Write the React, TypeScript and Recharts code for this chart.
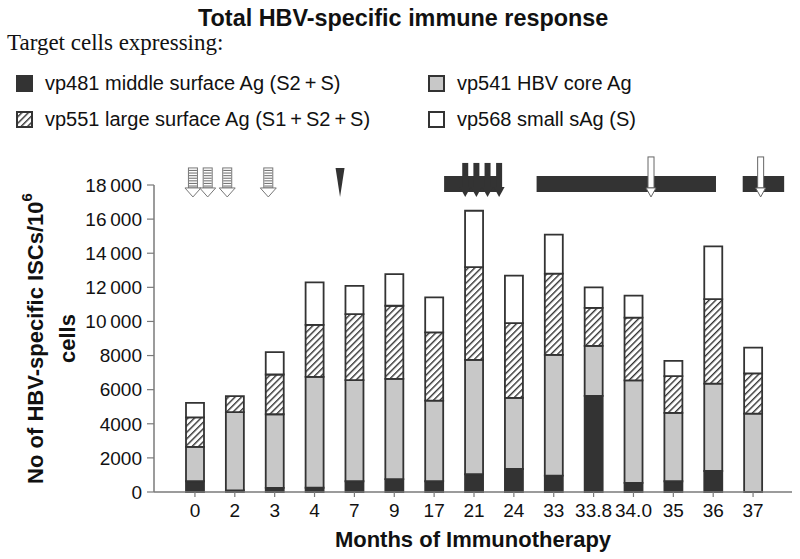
import React from "react";
import {
  BarChart,
  Bar,
  XAxis,
  YAxis,
  ReferenceArea,
  ReferenceDot,
} from "recharts";

// months of immunotherapy (x categories)
const months = ["0", "2", "3", "4", "7", "9", "17", "21", "24", "33", "33.8", "34.0", "35", "36", "37"];

// ISCs per 10^6 cells, stacked bottom -> top
const vp481 = [630, 100, 240, 250, 630, 750, 630, 1040, 1350, 960, 5640, 530, 630, 1230, 0];
const vp541 = [2010, 4580, 4320, 6500, 5930, 5880, 4730, 6710, 4170, 7080, 2930, 6010, 4010, 5130, 4590];
const vp551 = [1730, 940, 2330, 3050, 3870, 4290, 4000, 5440, 4380, 4760, 2230, 3680, 2150, 4950, 2370];
const vp568 = [850, 0, 1310, 2490, 1660, 1860, 2050, 3300, 2790, 2290, 1200, 1290, 900, 3090, 1500];

const yTicks = [0, 2000, 4000, 6000, 8000, 10000, 12000, 14000, 16000, 18000];

// treatment events, in category-index units (0 = first bar)
const stripedArrows = [-0.05, 0.32, 0.81, 1.84];
const wedges = [3.64];
const darkArrows = [6.78, 7.06, 7.34, 7.63];
const whiteArrows = [11.44, 14.19];
const therapyStart = [6.25, 8.57, 13.74];
const therapyEnd = [7.63, 13.07, 14.78];

const DARK = "#333333";
const GREY = "#c8c8c8";
const AXIS = "#7a7a7a";
const FONT = "'Liberation Sans', Arial, sans-serif";

const series = [
  { key: "vp481", name: "vp481 middle surface Ag (S2\u2009+\u2009S)", fill: DARK },
  { key: "vp541", name: "vp541 HBV core Ag", fill: GREY },
  { key: "vp551", name: "vp551 large surface Ag (S1\u2009+\u2009S2\u2009+\u2009S)", fill: "url(#hatch)" },
  { key: "vp568", name: "vp568 small sAg (S)", fill: "#ffffff" },
];

const data = months.map((m, i) => ({
  month: m,
  idx: i,
  vp481: vp481[i],
  vp541: vp541[i],
  vp551: vp551[i],
  vp568: vp568[i],
}));

// plot geometry shared by the category axis and the hidden event axis
const PLOT_W = 800 - 8 - 84 - 70;
const PAD_L = 21;
const PAD_R = 19;
const BAND = (PLOT_W - PAD_L - PAD_R) / months.length;

const ARROW_TIP = 17300;
const BAR_LOW = 17590;
const BAR_HIGH = 18530;

const fmtY = (v: number) => (v >= 10000 ? `${Math.floor(v / 1000)}\u2009000` : String(v));

const StripedArrow = ({ cx, cy }: any) => {
  const top = cy - 29;
  const lines = [];
  for (let y = top + 2.5; y < cy - 9; y += 2.6) {
    lines.push(<line key={y} x1={cx - 4} x2={cx + 4} y1={y} y2={y} stroke="#777" strokeWidth={1.1} />);
  }
  return (
    <g>
      <rect x={cx - 4.5} y={top} width={9} height={20} fill="#fff" stroke="#777" strokeWidth={1} />
      {lines}
      <polygon points={`${cx - 8},${cy - 9} ${cx + 8},${cy - 9} ${cx},${cy}`} fill="#fff" stroke="#777" strokeWidth={1} />
    </g>
  );
};

const Wedge = ({ cx, cy }: any) => (
  <polygon points={`${cx - 4.5},${cy - 29} ${cx + 4.5},${cy - 29} ${cx},${cy}`} fill={DARK} />
);

const DarkArrow = ({ cx, cy }: any) => (
  <g>
    <rect x={cx - 3} y={cy - 34} width={6} height={25} fill={DARK} />
    <polygon points={`${cx - 5.5},${cy - 10} ${cx + 5.5},${cy - 10} ${cx},${cy}`} fill={DARK} />
  </g>
);

const WhiteArrow = ({ cx, cy }: any) => (
  <g>
    <rect x={cx - 3} y={cy - 40} width={6} height={31} fill="#fff" stroke="#666" strokeWidth={1} />
    <polygon points={`${cx - 5},${cy - 9} ${cx + 5},${cy - 9} ${cx},${cy}`} fill="#fff" stroke="#666" strokeWidth={1} />
  </g>
);

const YLabel = ({ viewBox }: any) => {
  const cy = viewBox.y + viewBox.height / 2;
  const x1 = viewBox.x - 49;
  const x2 = viewBox.x - 17;
  return (
    <g fontFamily={FONT} fontWeight="bold" fontSize={22} fill="#111">
      <text x={x1} y={cy} textAnchor="middle" dominantBaseline="central" transform={`rotate(-90, ${x1}, ${cy})`}>
        No of HBV-specific ISCs/10
        <tspan fontSize={15} dy={-9}>6</tspan>
      </text>
      <text x={x2} y={cy} textAnchor="middle" dominantBaseline="central" transform={`rotate(-90, ${x2}, ${cy})`}>
        cells
      </text>
    </g>
  );
};

const XLabel = ({ viewBox }: any) => (
  <text
    x={viewBox.x + viewBox.width / 2}
    y={547}
    textAnchor="middle"
    fontFamily={FONT}
    fontWeight="bold"
    fontSize={22}
    fill="#111"
  >
    Months of Immunotherapy
  </text>
);

const Swatch = ({ fill }: { fill: string }) => (
  <svg width={17} height={17} style={{ display: "block" }}>
    <rect x={1} y={1} width={15} height={15} fill={fill} stroke={DARK} strokeWidth={2} />
  </svg>
);

export default function App() {
  // legend grid: left column vp481 / vp551, right column vp541 / vp568
  const legendPos = [
    { left: 16, top: 73 },
    { left: 428, top: 73 },
    { left: 16, top: 109 },
    { left: 428, top: 109 },
  ];
  return (
    <div style={{ position: "absolute", left: 0, top: 0, width: 800, height: 559, background: "#fff", fontFamily: FONT }}>
      <svg width={0} height={0} style={{ position: "absolute" }}>
        <defs>
          <pattern id="hatch" patternUnits="userSpaceOnUse" width={4.6} height={4.6} patternTransform="rotate(45)">
            <rect width={4.6} height={4.6} fill="#fff" />
            <line x1={0} y1={0} x2={0} y2={4.6} stroke={DARK} strokeWidth={2.8} />
          </pattern>
        </defs>
      </svg>
      <div style={{ position: "absolute", left: 198, top: 7, fontSize: 23.4, fontWeight: "bold", lineHeight: "23px", color: "#111", whiteSpace: "nowrap" }}>
        Total HBV-specific immune response
      </div>
      <div style={{ position: "absolute", left: 7, top: 31, fontSize: 23, lineHeight: "23px", fontFamily: "'Liberation Serif', 'Times New Roman', serif", color: "#111", whiteSpace: "nowrap" }}>
        Target cells expressing:
      </div>
      {series.map((s, i) => {
        const p = legendPos[i];
        return (
          <div key={s.key} style={{ position: "absolute", left: p.left, top: p.top, display: "flex", alignItems: "center", whiteSpace: "nowrap" }}>
            <Swatch fill={s.fill} />
            <span style={{ marginLeft: 12, fontSize: 20, lineHeight: "20px", color: "#111" }}>{s.name}</span>
          </div>
        );
      })}
      <div style={{ position: "absolute", left: 0, top: 0 }}>
        <BarChart
          width={800}
          height={559}
          data={data}
          margin={{ top: 185, right: 8, bottom: 7, left: 84 }}
          barSize={18}
        >
          <XAxis
            dataKey="month"
            height={60}
            padding={{ left: PAD_L, right: PAD_R }}
            axisLine={{ stroke: AXIS, strokeWidth: 1.5 }}
            tickLine={{ stroke: AXIS, strokeWidth: 1.2 }}
            tickSize={5}
            tickMargin={7}
            interval={0}
            tick={{ fill: "#111", fontSize: 19, fontFamily: FONT }}
            label={<XLabel />}
          />
          {/* hidden index axis: bar i sits at idx i, used to place treatment marks */}
          <XAxis
            xAxisId="ev"
            dataKey="idx"
            type="number"
            domain={[0, months.length - 1]}
            padding={{ left: PAD_L + BAND / 2, right: PAD_R + BAND / 2 }}
            hide
          />
          <YAxis
            width={70}
            domain={[0, 18000]}
            ticks={yTicks}
            interval={0}
            tickFormatter={fmtY}
            axisLine={{ stroke: AXIS, strokeWidth: 1.5 }}
            tickLine={{ stroke: AXIS, strokeWidth: 1.2 }}
            tickSize={7}
            tickMargin={5}
            tick={{ fill: "#111", fontSize: 19, fontFamily: FONT }}
            label={<YLabel />}
          />
          {series.map((s) => (
            <Bar
              key={s.key}
              dataKey={s.key}
              name={s.name}
              stackId="a"
              fill={s.fill}
              stroke={DARK}
              strokeWidth={1.8}
              isAnimationActive={false}
            />
          ))}
          {therapyStart.map((x1, i) => (
            <ReferenceArea
              key={`t${i}`}
              xAxisId="ev"
              x1={x1}
              x2={therapyEnd[i]}
              y1={BAR_LOW}
              y2={BAR_HIGH}
              fill={DARK}
              fillOpacity={1}
              stroke="none"
              ifOverflow="visible"
            />
          ))}
          {stripedArrows.map((x, i) => (
            <ReferenceDot key={`s${i}`} xAxisId="ev" x={x} y={ARROW_TIP} ifOverflow="visible" shape={StripedArrow} />
          ))}
          {wedges.map((x, i) => (
            <ReferenceDot key={`w${i}`} xAxisId="ev" x={x} y={ARROW_TIP} ifOverflow="visible" shape={Wedge} />
          ))}
          {darkArrows.map((x, i) => (
            <ReferenceDot key={`d${i}`} xAxisId="ev" x={x} y={ARROW_TIP} ifOverflow="visible" shape={DarkArrow} />
          ))}
          {whiteArrows.map((x, i) => (
            <ReferenceDot key={`o${i}`} xAxisId="ev" x={x} y={ARROW_TIP} ifOverflow="visible" shape={WhiteArrow} />
          ))}
        </BarChart>
      </div>
    </div>
  );
}
